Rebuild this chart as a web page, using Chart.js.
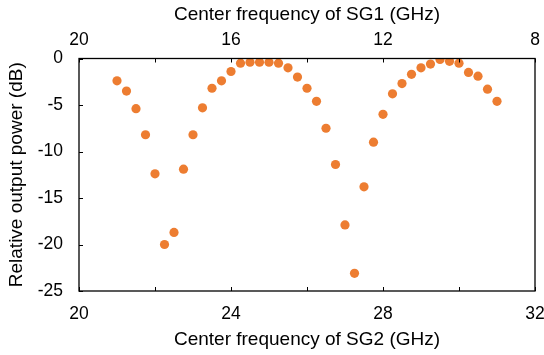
<!DOCTYPE html>
<html>
<head>
<meta charset="utf-8">
<script src="https://cdn.jsdelivr.net/npm/chart.js@4.4.1/dist/chart.umd.min.js"></script>
<style>
  html, body { margin: 0; padding: 0; background: #fff; }
  #wrap { width: 544px; height: 355px; }
</style>
</head>
<body>
<div id="wrap"><canvas id="myChart" width="544" height="355"></canvas></div>
<script>
// frequence centrale SG2 (GHz), axe du bas
const freqSG2 = [21.00, 21.25, 21.50, 21.75, 22.00, 22.25, 22.50, 22.75, 23.00, 23.25,
                 23.50, 23.75, 24.00, 24.25, 24.50, 24.75, 25.00, 25.25, 25.50, 25.75,
                 26.00, 26.25, 26.50, 26.75, 27.00, 27.25, 27.50, 27.75, 28.00, 28.25,
                 28.50, 28.75, 29.00, 29.25, 29.50, 29.75, 30.00, 30.25, 30.50, 30.75, 31.00]
// puissance de sortie relative (dB)
const powerDb = [-2.4, -3.5, -5.4, -8.2, -12.4, -20.0, -18.7, -11.9, -8.2, -5.3,
                 -3.2, -2.4, -1.4, -0.5, -0.4, -0.4, -0.4, -0.5, -1.0, -2.0,
                 -3.2, -4.6, -7.5, -11.4, -17.9, -23.1, -13.8, -9.0, -6.0, -3.8,
                 -2.7, -1.7, -1.0, -0.6, -0.1, -0.3, -0.5, -1.5, -1.9, -3.3, -4.6]
// labels des ticks
const ticksSG2 = [20, 24, 28, 32]
const ticksSG1 = [20, 16, 12, 8]
const ticksDb = [0, -5, -10, -15, -20, -25]

const tickFont = { family: 'Liberation Sans, Arial, sans-serif', size: 17.5 }
const titleFont = { family: 'Liberation Sans, Arial, sans-serif', size: 19 }
const black = '#000'

let points = freqSG2.map((f, i) => ({ x: f, y: powerDb[i] }))

//*********** petits ticks vers l'interieur + cadre ***********//
const insideTicks = {
    id: 'insideTicks',
    afterDraw(chart) {
        const c = chart.ctx
        const a = chart.chartArea
        const len = 4
        c.save()
        c.strokeStyle = black
        c.lineWidth = 1
        c.beginPath()
        chart.scales.x.ticks.forEach(t => {
            let px = Math.round(chart.scales.x.getPixelForValue(t.value)) + 0.5
            c.moveTo(px, a.bottom); c.lineTo(px, a.bottom - len)
        })
        chart.scales.x2.ticks.forEach(t => {
            let px = Math.round(chart.scales.x2.getPixelForValue(t.value)) + 0.5
            c.moveTo(px, a.top); c.lineTo(px, a.top + len)
        })
        chart.scales.y.ticks.forEach(t => {
            let py = Math.round(chart.scales.y.getPixelForValue(t.value)) + 0.5
            c.moveTo(a.left, py); c.lineTo(a.left + len, py)
        })
        c.stroke()
        // cadre complet
        c.lineWidth = 1.3
        c.strokeRect(a.left, a.top, a.right - a.left, a.bottom - a.top)
        c.restore()
    }
}

// pas de marge auto pour les labels qui debordent
function noOverflow(s) {
    s.paddingLeft = 0; s.paddingRight = 0
    s.paddingTop = 0; s.paddingBottom = 0
}

let ctx = document.getElementById('myChart')
let myChart = new Chart(ctx, {
    type: 'scatter',
    data: {
        datasets: [{
            data: points,
            xAxisID: 'x',
            yAxisID: 'y',
            backgroundColor: '#ED7D31',
            borderWidth: 0,
            pointRadius: 4.6,
            pointHoverRadius: 4.6
        }]
    },
    options: {
        responsive: false,
        animation: false,
        layout: { padding: { left: 0, right: 9, top: 0, bottom: 0 } },
        plugins: { legend: { display: false }, tooltip: { enabled: false } },
        scales: {
            x: {
                type: 'linear', position: 'bottom', min: 20, max: 32,
                grid: { display: false, drawTicks: false },
                border: { display: false },
                ticks: {
                    stepSize: 2, autoSkip: false, maxRotation: 0, padding: 13,
                    color: black, font: tickFont,
                    callback: v => ticksSG2.includes(v) ? String(v) : ''
                },
                title: { display: true, text: 'Center frequency of SG2 (GHz)', color: black,
                         font: titleFont, padding: { top: 0, bottom: 4 } },
                afterFit: s => { s.height = 64; noOverflow(s) }
            },
            x2: {
                type: 'linear', position: 'top', min: 8, max: 20, reverse: true,
                grid: { display: false, drawTicks: false },
                border: { display: false },
                ticks: {
                    stepSize: 2, autoSkip: false, maxRotation: 0, padding: 8,
                    color: black, font: tickFont,
                    callback: v => ticksSG1.includes(v) ? String(v) : ''
                },
                title: { display: true, text: 'Center frequency of SG1 (GHz)', color: black,
                         font: titleFont, padding: { top: 3, bottom: 0 } },
                afterFit: s => { s.height = 58.5; noOverflow(s) }
            },
            y: {
                type: 'linear', position: 'left', min: -25, max: 0,
                grid: { display: false, drawTicks: false },
                border: { display: false },
                ticks: {
                    stepSize: 5, padding: 16, color: black, font: tickFont,
                    callback: v => ticksDb.includes(v) ? String(v) : ''
                },
                title: { display: true, text: 'Relative output power (dB)', color: black,
                         font: titleFont, padding: { top: 5, bottom: 0 } },
                afterFit: s => { s.width = 79; noOverflow(s) }
            }
        }
    },
    plugins: [insideTicks]
})
</script>
</body>
</html>
